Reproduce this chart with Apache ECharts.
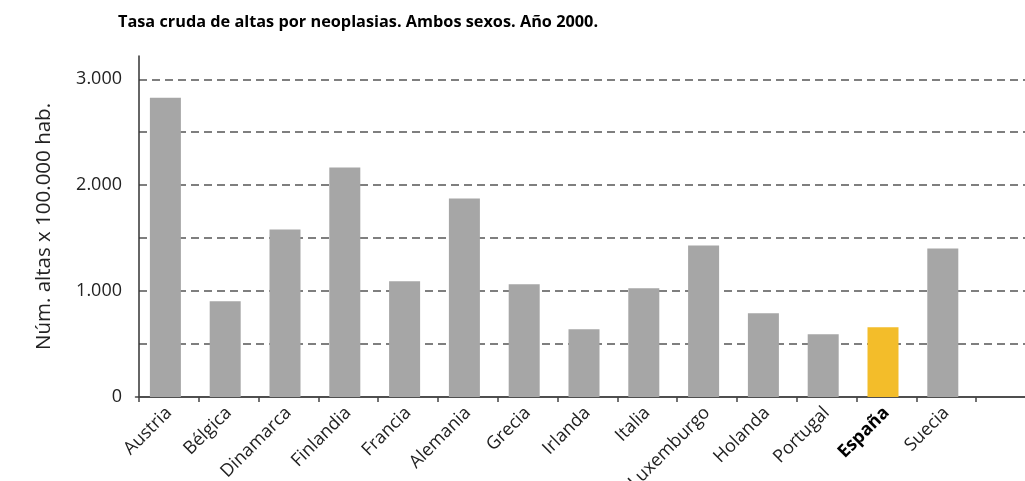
<!DOCTYPE html>
<html>
<head>
<meta charset="utf-8">
<script src="https://cdn.jsdelivr.net/npm/echarts@6/dist/echarts.min.js"></script>
<style>html,body{margin:0;padding:0;background:#fff}#c{width:1025px;height:481px}</style>
</head>
<body>
<div id="c"></div>
<script>
const titleText = 'Tasa cruda de altas por neoplasias. Ambos sexos. Año 2000.';
const yAxisName = 'Núm. altas x 100.000 hab.';
const categories = ['Austria','Bélgica','Dinamarca','Finlandia','Francia','Alemania','Grecia','Irlanda','Italia','Luxemburgo','Holanda','Portugal','España','Suecia',''];
const values = [2825, 904, 1582, 2166, 1092, 1874, 1064, 640, 1026, 1431, 791, 593, 659, 1403, null];
const highlight = 'España';
const yTickLabels = [0, 1000, 2000, 3000];

const FONT = '"Open Sans", "Noto Sans", sans-serif';
const Y_MAX = 3220;
const chart = echarts.init(document.getElementById('c'), null, {renderer: 'canvas'});

function fmt(v) {
  return String(v).replace(/\B(?=(\d{3})+(?!\d))/g, '.');
}

chart.setOption({
  animation: false,
  backgroundColor: '#fff',
  title: {
    text: titleText,
    left: 113, top: 9,
    textStyle: {fontFamily: FONT, fontWeight: 'bold', fontSize: 16.3, color: '#000'}
  },
  grid: [
    {left: 139, top: 56, width: 897, bottom: 84, containLabel: false, outerBoundsMode: 'none'},
    {left: 135.5, top: 56, width: 897, bottom: 84, containLabel: false, outerBoundsMode: 'none'}
  ],
  xAxis: [{
    type: 'category',
    gridIndex: 0,
    data: categories.map(c => c === highlight ? {value: c, textStyle: {fontWeight: 'bold', color: '#000'}} : c),
    boundaryGap: true,
    axisLine: {lineStyle: {color: '#444', width: 1.5}},
    axisTick: {show: true, alignWithLabel: false, length: 5, lineStyle: {color: '#444', width: 1.5}},
    axisLabel: {interval: 0, rotate: 45, margin: 13, fontFamily: FONT, fontSize: 18, color: '#222'}
  }, {
    type: 'category',
    gridIndex: 1,
    data: categories,
    boundaryGap: true,
    show: true,
    axisLine: {show: true, lineStyle: {color: '#444', width: 1.5}},
    axisTick: {show: false},
    axisLabel: {show: false}
  }],
  yAxis: [{
    type: 'value',
    gridIndex: 0,
    min: 0, max: Y_MAX, interval: 500,
    name: yAxisName,
    nameLocation: 'middle',
    nameGap: 84,
    nameTextStyle: {fontFamily: FONT, fontSize: 20.5, color: '#222'},
    axisLine: {show: true, lineStyle: {color: '#333', width: 1.5}},
    axisTick: {show: false},
    axisLabel: {
      margin: 17, fontFamily: FONT, fontSize: 18, color: '#222',
      formatter: v => yTickLabels.indexOf(v) >= 0 ? fmt(v) : ''
    },
    splitLine: {
      show: true,
      lineStyle: {
        color: ['rgba(0,0,0,0)', '#555', '#555', '#555', '#555', '#555', '#555', 'rgba(0,0,0,0)'],
        type: [8, 5], width: 1.5
      }
    }
  }, {
    type: 'value',
    gridIndex: 1,
    min: 0, max: Y_MAX,
    show: false,
    splitLine: {show: false}
  }],
  series: [{
    type: 'bar',
    xAxisIndex: 1,
    yAxisIndex: 1,
    data: values.map((v, i) => ({
      value: v,
      itemStyle: {color: categories[i] === highlight ? '#f3bd2a' : '#a6a6a6'}
    })),
    barWidth: 31,
    z: 1
  }]
});
</script>
</body>
</html>
